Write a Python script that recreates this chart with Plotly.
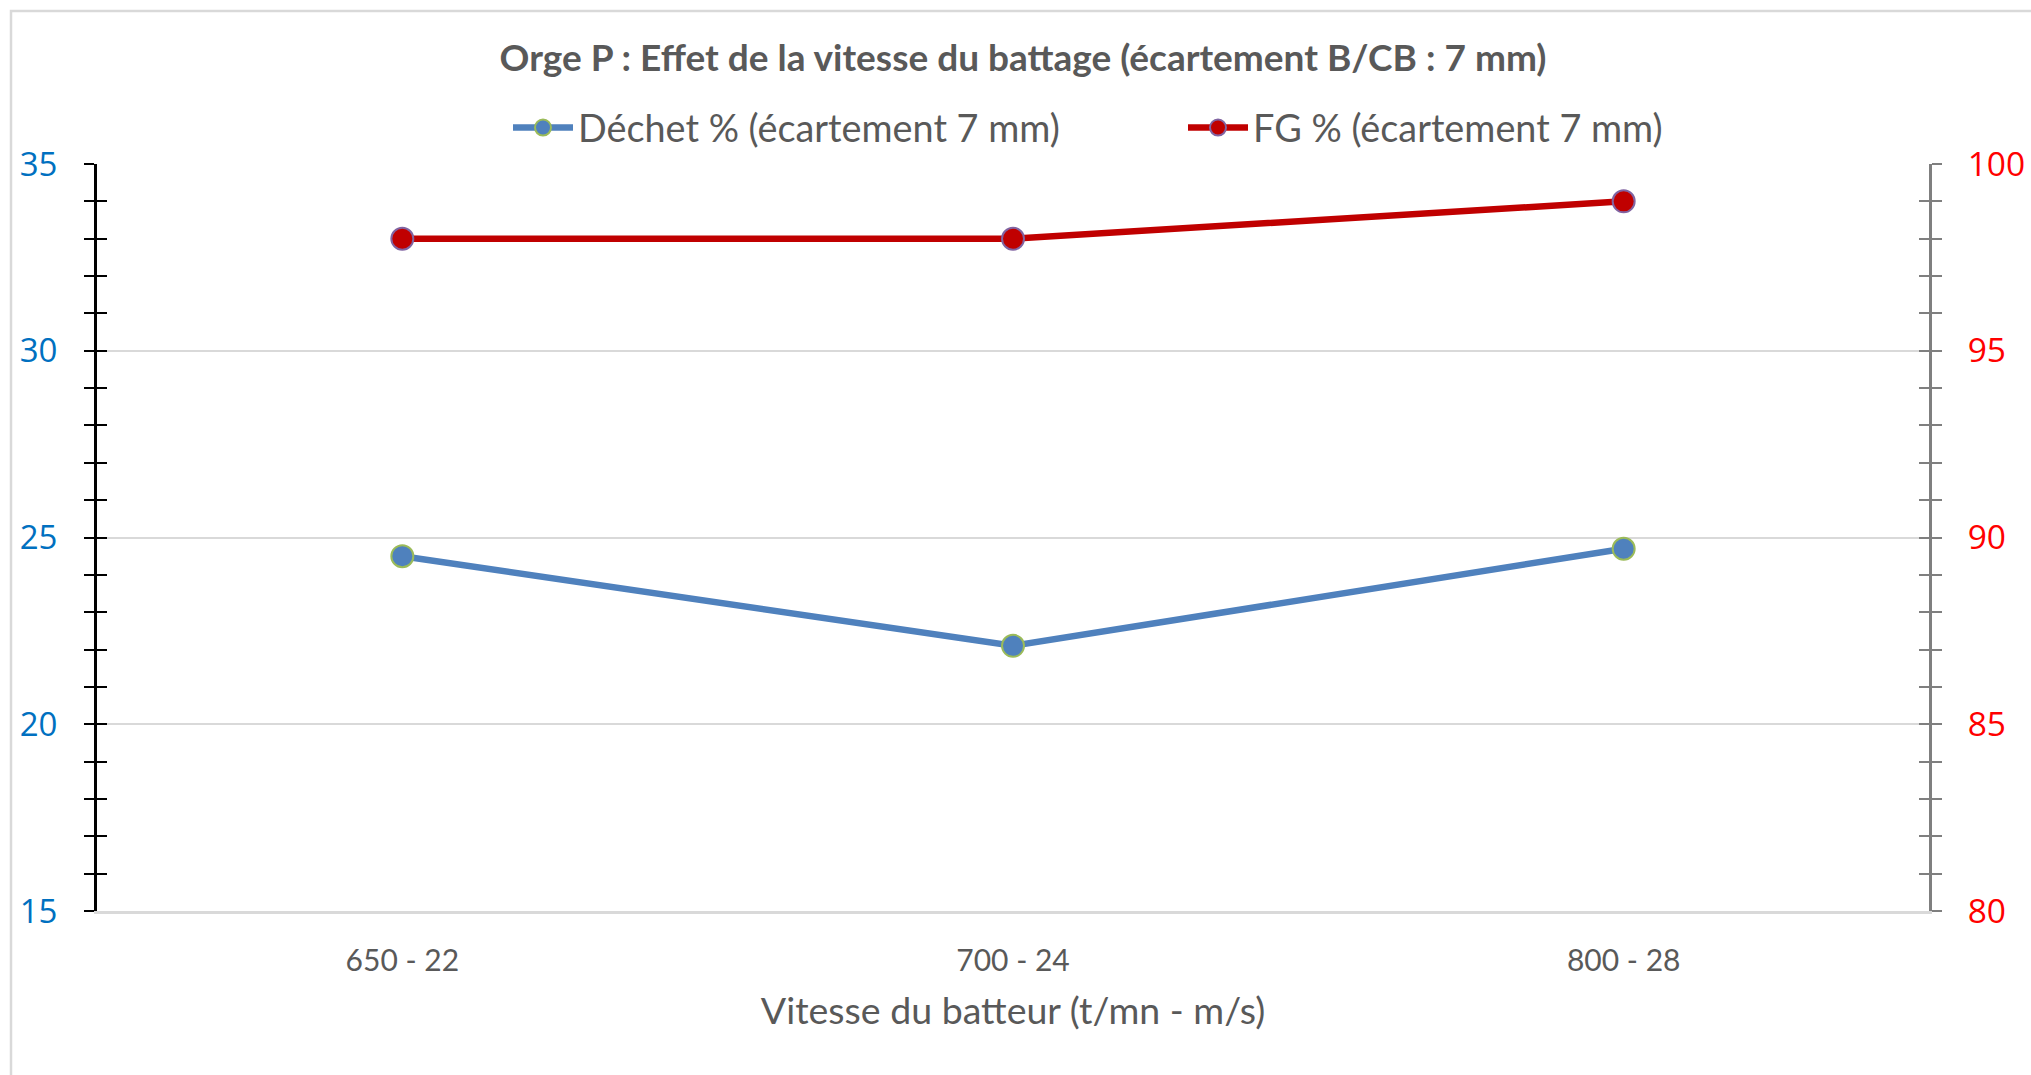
import plotly.graph_objects as go

categories = ["650 - 22", "700 - 24", "800 - 28"]
dechet = [24.5, 22.1, 24.7]
fg = [98.0, 98.0, 99.0]
left_range = [15, 35]
right_range = [80, 100]

W, H = 2031, 1075
L, R, T, B = 97, 102, 164, 164
PW, PH = W - L - R, H - T - B

TXT = "#595959"
FONT = "Lato, 'Open Sans', sans-serif"
NUMFONT = "'Open Sans', 'Noto Sans', sans-serif"

fig = go.Figure()
fig.add_trace(go.Scatter(
    x=categories, y=dechet, name="Déchet % (écartement 7 mm)", mode="lines+markers",
    line=dict(color="#4F81BD", width=6.5),
    marker=dict(size=22, color="#4F81BD", line=dict(color="#9BBB59", width=2)),
    yaxis="y"))
fig.add_trace(go.Scatter(
    x=categories, y=fg, name="FG % (écartement 7 mm)", mode="lines+markers",
    line=dict(color="#C00000", width=6.5),
    marker=dict(size=22, color="#C00000", line=dict(color="#8064A2", width=2)),
    yaxis="y2"))
# hosts for the inner half of the crossing tick marks
fig.add_trace(go.Scatter(x=categories, y=[None] * 3, yaxis="y3", showlegend=False, hoverinfo="skip"))
fig.add_trace(go.Scatter(x=categories, y=[None] * 3, yaxis="y4", showlegend=False, hoverinfo="skip"))

tick_common = dict(ticklen=10, tickwidth=2)

fig.update_layout(
    width=W, height=H, margin=dict(l=L, r=R, t=T, b=B, autoexpand=False),
    paper_bgcolor="white", plot_bgcolor="white",
    title=dict(text="<b>Orge P : Effet de la vitesse du battage (écartement B/CB : 7 mm)</b>",
               font=dict(family=FONT, size=37, color=TXT),
               x=1023 / W, xanchor="center", xref="container",
               y=1 - 58 / H, yanchor="middle", yref="container"),
    legend=dict(orientation="h", xref="container", yref="container",
                x=508 / W, xanchor="left", y=1 - 128 / H, yanchor="middle",
                font=dict(family=FONT, size=37.8, color=TXT),
                itemwidth=60,
                entrywidth=600, entrywidthmode="pixels",
                bgcolor="rgba(0,0,0,0)"),
    xaxis=dict(type="category", range=[-0.5, 2.5], showgrid=False, zeroline=False,
               showline=True, linecolor="#D9D9D9", linewidth=2.5, ticks="",
               tickfont=dict(family=FONT, size=30, color=TXT), ticklabelstandoff=21,
               title=dict(text="Vitesse du batteur (t/mn - m/s)",
                          font=dict(family=FONT, size=37.5, color=TXT), standoff=22)),
    yaxis=dict(range=left_range, dtick=5, tick0=15, showgrid=True, gridcolor="#D9D9D9", gridwidth=1.5,
               zeroline=False, showline=True, linecolor="black", linewidth=3,
               ticks="outside", tickcolor="black", **tick_common,
               minor=dict(dtick=1, ticks="outside", ticklen=10, tickwidth=2, tickcolor="black", showgrid=False),
               tickfont=dict(family=NUMFONT, size=33, color="#0070C0"), ticklabelstandoff=20),
    yaxis2=dict(range=right_range, dtick=5, tick0=80, overlaying="y", side="right", anchor="x",
                showgrid=False, zeroline=False, showline=True, linecolor="#7F7F7F", linewidth=3,
                ticks="outside", tickcolor="#7F7F7F", **tick_common,
                minor=dict(dtick=1, ticks="outside", ticklen=10, tickwidth=2, tickcolor="#7F7F7F", showgrid=False),
                tickfont=dict(family=NUMFONT, size=33.5, color="#FF0000"), ticklabelstandoff=19),
    yaxis3=dict(range=left_range, dtick=5, tick0=15, overlaying="y", side="left", anchor="x",
                showgrid=False, zeroline=False, showline=False, showticklabels=False,
                ticks="inside", tickcolor="black", **tick_common,
                minor=dict(dtick=1, ticks="inside", ticklen=10, tickwidth=2, tickcolor="black", showgrid=False)),
    yaxis4=dict(range=right_range, dtick=5, tick0=80, overlaying="y", side="right", anchor="x",
                showgrid=False, zeroline=False, showline=False, showticklabels=False,
                ticks="inside", tickcolor="#7F7F7F", **tick_common,
                minor=dict(dtick=1, ticks="inside", ticklen=10, tickwidth=2, tickcolor="#7F7F7F", showgrid=False)),
    shapes=[dict(type="rect", xref="paper", yref="paper", layer="below",
                 x0=(11 - L) / PW, x1=(W + 30 - L) / PW,
                 y0=(H - B - (H + 30)) / PH, y1=(H - B - 11) / PH,
                 line=dict(color="#D9D9D9", width=2.5), fillcolor="rgba(0,0,0,0)")],
    showlegend=True,
)

fig.write_html("out.html", config={"displayModeBar": False},
               post_script="document.body.style.margin='0';document.body.style.overflow='hidden';")
